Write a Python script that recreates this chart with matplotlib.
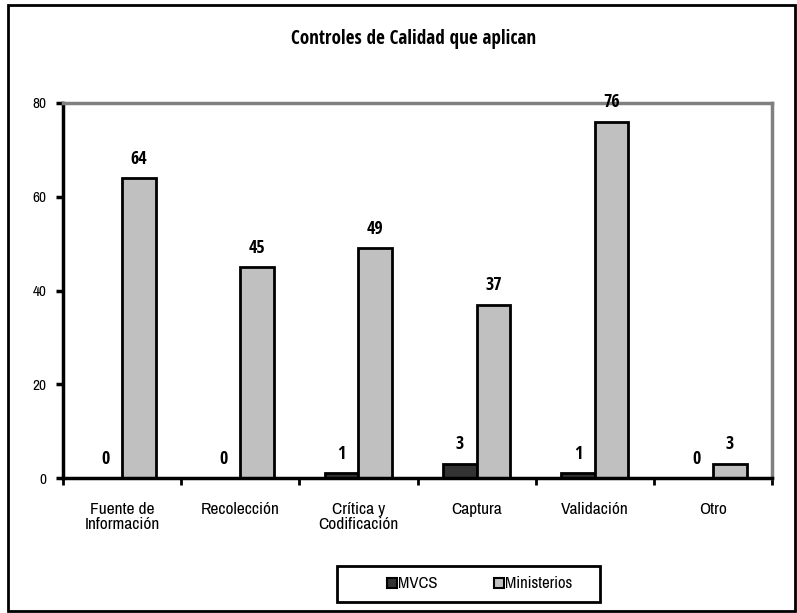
import matplotlib
matplotlib.use('Agg')
import matplotlib.pyplot as plt
import numpy as np
from matplotlib.patches import Rectangle

plt.rcParams['font.family'] = ['Archivo Narrow', 'Liberation Sans', 'DejaVu Sans']
BOLD = ['Open Sans Condensed', 'Liberation Sans', 'DejaVu Sans']

categories = ['Fuente de\nInformación', 'Recolección', 'Crítica y\nCodificación',
              'Captura', 'Validación', 'Otro']
mvcs = [0, 0, 1, 3, 1, 0]
ministerios = [64, 45, 49, 37, 76, 3]
yticks = [0, 20, 40, 60, 80]

W, H = 797, 613
fig = plt.figure(figsize=(W / 100, H / 100), dpi=100)
fig.patch.set_facecolor('white')
fig.add_artist(Rectangle((8 / W, 1 - 611 / H), (795 - 8) / W, (611 - 5) / H,
                         transform=fig.transFigure, fill=False,
                         edgecolor='black', linewidth=2))

ax = fig.add_axes([63 / W, 1 - 478 / H, (772 - 63) / W, (478 - 103) / H])
x = np.arange(len(categories)) + 0.5
bw = 0.285
b1 = ax.bar(x - bw / 2, mvcs, bw, color='#333333', edgecolor='black', linewidth=2,
            label='MVCS')
b2 = ax.bar(x + bw / 2, ministerios, bw, color='#c0c0c0', edgecolor='black',
            linewidth=2, label='Ministerios')

for xi, v in zip(x - bw / 2, mvcs):
    ax.annotate(str(v), (xi, v), xytext=(0, 14), textcoords='offset points',
                ha='center', va='center', fontsize=13, fontweight='bold', family=BOLD)
for xi, v in zip(x + bw / 2, ministerios):
    ax.annotate(str(v), (xi, v), xytext=(0, 14), textcoords='offset points',
                ha='center', va='center', fontsize=13, fontweight='bold', family=BOLD)

ax.set_xlim(0, len(categories))
ax.set_ylim(0, 80)
ax.set_yticks(yticks)
ax.set_yticklabels([str(t) for t in yticks], fontsize=11)
ax.set_xticks(np.arange(len(categories) + 1))
ax.set_xticklabels([])
ax.set_xticks(x, minor=True)
ax.set_xticklabels(categories, minor=True, fontsize=12.5, linespacing=1.05)
ax.tick_params(axis='x', which='minor', length=0, pad=17)
ax.tick_params(axis='x', which='major', length=5, width=2, direction='out')
ax.tick_params(axis='y', length=5, width=2.5, direction='out', pad=7)
for s in ['left', 'bottom']:
    ax.spines[s].set_linewidth(2.5)
    ax.spines[s].set_color('black')
for s in ['top', 'right']:
    ax.spines[s].set_linewidth(2.5)
    ax.spines[s].set_color('#808080')

fig.text(414 / W, 1 - 39 / H, 'Controles de Calidad que aplican',
         ha='center', va='center', fontsize=13.8, fontweight='bold', family=BOLD)

# legend box drawn separately, items placed inside
fig.add_artist(Rectangle((337 / W, 1 - 602 / H), (600 - 337) / W, (602 - 566) / H,
                         transform=fig.transFigure, fill=False,
                         edgecolor='black', linewidth=2))
leg = fig.legend(handles=[b1, b2], loc='center', ncol=2,
                 bbox_to_anchor=(480 / W, 1 - 584 / H), frameon=False,
                 fontsize=12, handlelength=0.55, handleheight=0.55, handletextpad=0.1,
                 columnspacing=3.4, borderpad=0, borderaxespad=0)
for h in leg.legend_handles:
    h.set_linewidth(1.5)

fig.savefig('out.png', dpi=100)
